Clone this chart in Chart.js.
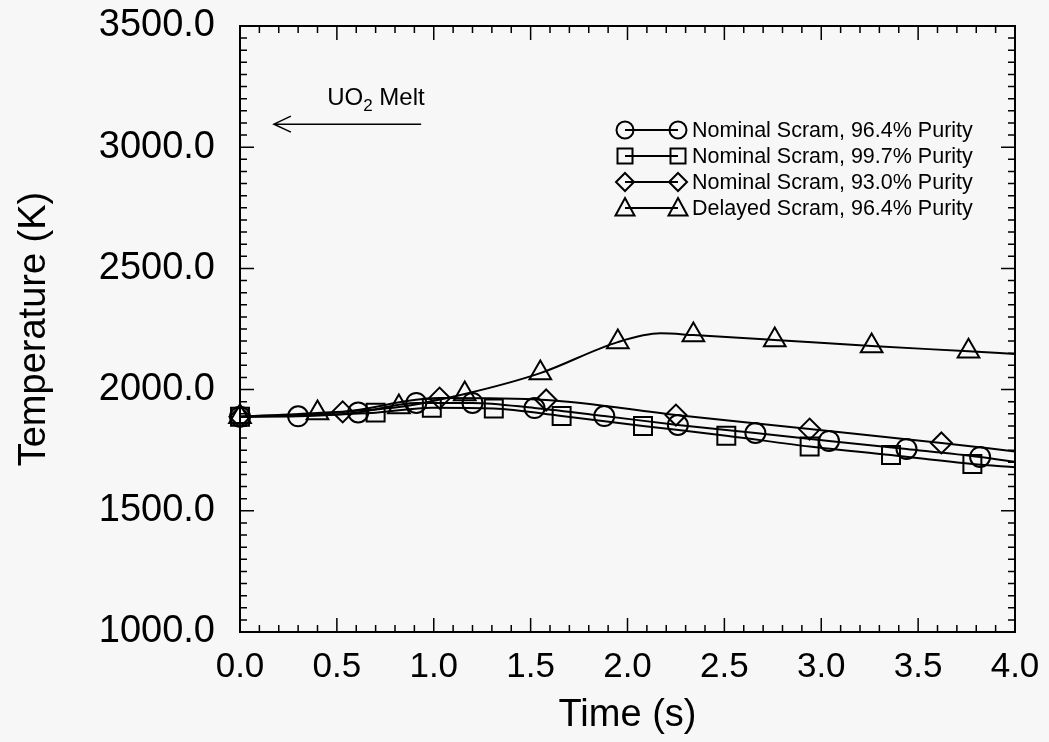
<!DOCTYPE html>
<html lang="en">
<head>
<meta charset="UTF-8">
<title>Fuel Temperature vs Time</title>
<script src="https://cdn.jsdelivr.net/npm/chart.js"></script>
<style>
    body { margin: 0; background: #f7f7f7; }
    #wrap { width: 1049px; height: 742px; }
</style>
</head>
<body>
<div id="wrap"><canvas id="tempChart" width="1049" height="742"></canvas></div>
<script>
// values: time (s) and temperature (K) at each marker
const seriesNames = [
    'Nominal Scram, 96.4% Purity',
    'Nominal Scram, 99.7% Purity',
    'Nominal Scram, 93.0% Purity',
    'Delayed Scram, 96.4% Purity'
];

const circTime = [0, 0.30, 0.61, 0.91, 1.20, 1.52, 1.88, 2.26, 2.66, 3.04, 3.44, 3.82];
const circTemp = [1888, 1890, 1906, 1945, 1945, 1924, 1891, 1854, 1821, 1788, 1755, 1722];

const sqTime = [0, 0.70, 0.99, 1.31, 1.66, 2.08, 2.51, 2.94, 3.36, 3.78];
const sqTemp = [1888, 1905, 1925, 1922, 1891, 1850, 1810, 1765, 1730, 1693];

const diaTime = [0, 0.53, 1.03, 1.58, 2.25, 2.94, 3.62];
const diaTemp = [1888, 1908, 1965, 1957, 1895, 1837, 1780];

const triTime = [0, 0.40, 0.82, 1.16, 1.55, 1.95, 2.34, 2.76, 3.26, 3.76];
const triTemp = [1888, 1903, 1928, 1982, 2068, 2196, 2225, 2205, 2180, 2158];

// curve points without a marker: where each line leaves the plot, and the delayed-scram peak
const lineEndTime = 4.0;
const lineEndTemp = [1702, 1680, 1745, 2147];
const triPeakTime = [2.17];
const triPeakTemp = [2232];

// UO2 melting temperature arrow
const meltTemp = 3095;

const FONT = "'Liberation Sans', Arial, Helvetica, sans-serif";

function pts(t, v) {
    return t.map((x, i) => ({ x: x, y: v[i] }));
}

const markerSets = [
    { data: pts(circTime, circTemp), style: 'circle', radius: 10 },
    { data: pts(sqTime, sqTemp), style: 'rect', radius: 12.7 },
    { data: pts(diaTime, diaTemp), style: 'rectRot', radius: 10.5 },
    { data: pts(triTime, triTemp), style: 'triangle', radius: 12.5 }
];

const datasets = [];
markerSets.forEach((s, i) => {
    let line = s.data.concat([{ x: lineEndTime, y: lineEndTemp[i] }]);
    if (i === 3) line = line.concat(pts(triPeakTime, triPeakTemp));
    line.sort((a, b) => a.x - b.x);
    datasets.push({
        label: seriesNames[i] + ' line',
        data: line,
        showLine: true,
        borderColor: '#000',
        borderWidth: 2,
        pointRadius: 0,
        cubicInterpolationMode: 'monotone',
        clip: false
    });
    datasets.push({
        label: seriesNames[i],
        data: s.data,
        showLine: false,
        pointStyle: s.style,
        pointRadius: s.radius,
        pointBorderWidth: 2,
        pointBorderColor: '#000',
        pointBackgroundColor: 'rgba(0,0,0,0)',
        clip: false
    });
});

// draws a hollow legend symbol
function symbol(ctx, style, x, y) {
    ctx.beginPath();
    if (style === 'circle') {
        ctx.arc(x, y, 8.5, 0, Math.PI * 2);
    } else if (style === 'rect') {
        ctx.rect(x - 7.5, y - 7.5, 15, 15);
    } else if (style === 'rectRot') {
        ctx.moveTo(x, y - 9); ctx.lineTo(x + 9, y); ctx.lineTo(x, y + 9); ctx.lineTo(x - 9, y);
        ctx.closePath();
    } else {
        ctx.moveTo(x, y - 10); ctx.lineTo(x + 9.5, y + 7.5); ctx.lineTo(x - 9.5, y + 7.5);
        ctx.closePath();
    }
    ctx.stroke();
}

const framePlugin = {
    id: 'frame',
    afterDraw(chart) {
        const { ctx, chartArea: a, scales: { x, y } } = chart;
        ctx.save();
        ctx.strokeStyle = '#000';
        ctx.fillStyle = '#000';

        // box with inward ticks on all four sides
        ctx.lineWidth = 2;
        ctx.strokeRect(a.left, a.top, a.right - a.left, a.bottom - a.top);
        ctx.lineWidth = 1.5;
        ctx.beginPath();
        for (let i = 0; i <= 40; i++) {
            const px = x.getPixelForValue(i / 10);
            const len = i % 5 === 0 ? 14 : 7;
            ctx.moveTo(px, a.bottom); ctx.lineTo(px, a.bottom - len);
            ctx.moveTo(px, a.top); ctx.lineTo(px, a.top + len);
        }
        for (let v = 1000; v <= 3500; v += 50) {
            const py = y.getPixelForValue(v);
            const len = v % 500 === 0 ? 14 : 7;
            ctx.moveTo(a.left, py); ctx.lineTo(a.left + len, py);
            ctx.moveTo(a.right, py); ctx.lineTo(a.right - len, py);
        }
        ctx.stroke();

        // UO2 melt arrow
        const ay = y.getPixelForValue(meltTemp);
        const x0 = x.getPixelForValue(0.175);
        const x1 = x.getPixelForValue(0.935);
        ctx.lineWidth = 1.5;
        ctx.beginPath();
        ctx.moveTo(x1, ay); ctx.lineTo(x0, ay);
        ctx.moveTo(x0 + 17, ay - 8); ctx.lineTo(x0, ay); ctx.lineTo(x0 + 17, ay + 8);
        ctx.stroke();

        ctx.textBaseline = 'alphabetic';
        ctx.textAlign = 'left';
        let tx = x.getPixelForValue(0.45);
        const ty = ay - 19;
        ctx.font = '24px ' + FONT;
        ctx.fillText('UO', tx, ty);
        tx += ctx.measureText('UO').width;
        ctx.font = '17px ' + FONT;
        ctx.fillText('2', tx, ty + 6);
        tx += ctx.measureText('2').width;
        ctx.font = '24px ' + FONT;
        ctx.fillText(' Melt', tx, ty);

        // legend: marker, line, marker, label
        ctx.font = '21.5px ' + FONT;
        ctx.textBaseline = 'middle';
        const lx = a.right - 390;
        markerSets.forEach((s, i) => {
            const ly = a.top + 104 + i * 26;
            ctx.lineWidth = 2;
            ctx.beginPath();
            ctx.moveTo(lx, ly); ctx.lineTo(lx + 53, ly);
            ctx.stroke();
            symbol(ctx, s.style, lx, ly);
            symbol(ctx, s.style, lx + 53, ly);
            ctx.fillText(seriesNames[i], lx + 67, ly + 1);
        });
        ctx.restore();
    }
};

new Chart(document.getElementById('tempChart').getContext('2d'), {
    type: 'scatter',
    data: { datasets: datasets },
    options: {
        responsive: false,
        animation: false,
        layout: { padding: { top: 26, right: 34, bottom: 0, left: 0 } },
        plugins: {
            legend: { display: false },
            tooltip: { enabled: false }
        },
        scales: {
            x: {
                type: 'linear',
                min: 0,
                max: 4,
                afterFit: s => { s.height = 110; s.paddingLeft = 0; s.paddingRight = 0; },
                grid: { display: false, drawTicks: false },
                border: { display: false },
                ticks: {
                    stepSize: 0.5,
                    padding: 14,
                    color: '#000',
                    font: { family: FONT, size: 35 },
                    callback: v => v.toFixed(1)
                },
                title: {
                    display: true,
                    text: 'Time (s)',
                    color: '#000',
                    font: { family: FONT, size: 38 },
                    padding: { top: 0, bottom: 4 }
                }
            },
            y: {
                min: 1000,
                max: 3500,
                afterFit: s => { s.width = 240; s.paddingTop = 0; s.paddingBottom = 0; },
                grid: { display: false, drawTicks: false },
                border: { display: false },
                ticks: {
                    stepSize: 500,
                    padding: 25,
                    color: '#000',
                    font: { family: FONT, size: 38 },
                    callback: v => v.toFixed(1)
                },
                title: {
                    display: true,
                    text: 'Temperature (K)',
                    color: '#000',
                    font: { family: FONT, size: 38 },
                    padding: { top: 12, bottom: 0 }
                }
            }
        }
    },
    plugins: [framePlugin]
});
</script>
</body>
</html>
